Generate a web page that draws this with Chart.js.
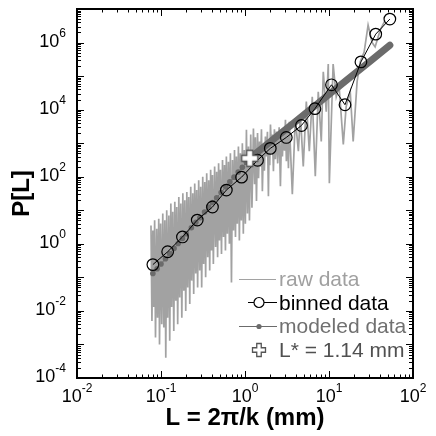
<!DOCTYPE html>
<html lang="en">
<head>
<meta charset="UTF-8">
<title>P[L] spectrum</title>
<style>
    body { margin: 0; background: #ffffff; }
    #chart { display: block; }
</style>
<script src="https://cdn.jsdelivr.net/npm/chart.js"></script>
</head>
<body>
<canvas id="chart" width="436" height="436"></canvas>
<script>
// raw spectrum, traced as peak / trough pairs
const rawL = [
    0.076, 0.078, 0.080, 0.082, 0.084, 0.086, 0.089, 0.091, 0.094, 0.096,
    0.099, 0.102, 0.105, 0.108, 0.111, 0.114, 0.117, 0.120, 0.124, 0.127,
    0.131, 0.134, 0.138, 0.142, 0.146, 0.150, 0.154, 0.158, 0.163, 0.167,
    0.172, 0.177, 0.182, 0.187, 0.192, 0.197, 0.203, 0.208, 0.214, 0.220,
    0.226, 0.232, 0.239, 0.245, 0.252, 0.259, 0.266, 0.273, 0.281, 0.289,
    0.297, 0.305, 0.314, 0.322, 0.332, 0.340, 0.350, 0.360, 0.370, 0.380,
    0.39, 0.40, 0.41, 0.42, 0.435, 0.447, 0.46, 0.472, 0.485, 0.497,
    0.51, 0.525, 0.54, 0.555, 0.57, 0.585, 0.60, 0.617, 0.635, 0.652,
    0.67, 0.69, 0.71, 0.73, 0.75, 0.77, 0.79, 0.81, 0.835, 0.857,
    0.88, 0.905, 0.93, 0.955, 0.98, 1.01, 1.04, 1.07, 1.10, 1.13,
    1.17, 1.21, 1.26, 1.30, 1.33, 1.37, 1.41, 1.45, 1.49, 1.53,
    1.57, 1.61, 1.66, 1.70, 1.75, 1.80, 1.85, 1.90, 1.94, 1.97,
    2.01, 2.07, 2.12, 2.18, 2.24, 2.30, 2.37, 2.45, 2.55, 2.64,
    2.72, 2.79, 2.86, 2.95, 3.03, 3.11, 3.20, 3.29, 3.37, 3.66,
    3.97, 4.32, 4.56, 4.94, 5.37, 5.83,
    6.32, 6.87, 7.45, 8.09, 8.55, 9.27, 9.8, 10.1, 11.2, 12.2,
    13.2, 14.8, 16.0, 17.9, 19.4, 21.6, 23.5, 26.2, 29.2, 32.6,
    35.4, 40.6, 46.5
];
const rawP = [
    3.5, 5e-3, 2.5, 1.3e-2, 5, 1.6e-3, 2.8, 6.3e-3, 5.6, 1e-3,
    4, 4e-3, 8, 3.2e-3, 5, 4e-4, 10, 6.3e-3, 7, 1.3e-3,
    16, 1.3e-2, 9, 2.5e-3, 18, 2e-2, 12.5, 4e-3, 25, 2.5e-2,
    16, 6.3e-3, 32, 4e-2, 20, 1e-2, 35, 5e-2, 25, 1.6e-2,
    50, 8e-2, 32, 3.2e-2, 63, 0.13, 40, 5e-2, 79, 0.16,
    50, 5e-2, 100, 0.25, 70, 0.1, 126, 0.4, 79, 0.16,
    160, 0.63, 112, 0.25, 200, 0.8, 140, 0.4, 250, 1.26,
    160, 0.5, 316, 1.6, 224, 0.63, 400, 2, 280, 1,
    500, 0.07, 316, 2.5, 630, 1.6, 400, 4, 790, 1.26,
    500, 5, 1000, 2, 630, 4, 2500, 8, 790, 5,
    1800, 12, 2750, 60, 1500, 19, 2000, 90, 1120, 200,
    2600, 37, 900, 150, 1580, 400, 2200, 26, 1300, 220,
    3600, 500, 1800, 145, 2600, 330, 2240, 250, 3000, 52,
    1600, 400, 2570, 600, 5000, 290, 2800, 180, 4370, 30,
    5400, 575, 7100, 204, 17400, 575,
    24300, 103, 34000, 1120, 134000, 8700, 230000, 64, 230000, 24300,
    48000, 920, 12300, 34000, 1120, 68000, 265000, 520000, 3.3e6, 1.0e6,
    740000, 2.3e6, 4.6e6
];

const binL = [0.080, 0.12, 0.18, 0.27, 0.41, 0.60, 0.91, 1.41, 2.0, 3.1, 4.7, 6.8, 10.7, 15.5, 24, 36, 53];
const binP = [0.24, 0.58, 1.6, 5.1, 12.5, 40, 97, 310, 700, 1480, 3370, 10700, 55000, 14000, 265000, 1.78e6, 5e6];

const modelL = [0.08, 0.09, 0.10, 0.113, 0.127, 0.143, 0.16, 0.18, 0.20, 0.23, 0.26, 0.29, 0.33, 0.37, 0.41,
                0.46, 0.52, 0.59, 0.66, 0.74, 0.83, 0.93, 1.04, 1.14, 2, 4, 8, 16, 32, 53];
const modelP = [0.13, 0.18, 0.25, 0.36, 0.51, 0.73, 1.02, 1.45, 2.0, 3.0, 4.4, 6.0, 8.9, 12.4, 17,
                23.6, 34, 50, 70, 97, 138, 192, 270, 355, 1100, 4450, 18000, 74000, 295000, 830000];

const lStarL = [1.14];
const lStarP = [355];

const xExp = [-2, -1, 0, 1, 2];
const yExp = [-4, -2, 0, 2, 4, 6];
const seriesNames = ['raw data', 'binned data', 'modeled data', 'L* = 1.14 mm'];

const FONT = '"Liberation Sans", Arial, sans-serif';
const rawColor = '#a2a2a2';
const modelColor = '#6b6b6b';

function pts(xs, ys) {
    return xs.map((x, i) => ({x: x, y: ys[i]}));
}

function plusShape(size, arm) {
    const c = document.createElement('canvas');
    c.width = size + 3;
    c.height = size + 3;
    const g = c.getContext('2d');
    const o = 1.5, m = (size - arm) / 2;
    g.beginPath();
    g.moveTo(o + m, o);
    g.lineTo(o + m + arm, o);
    g.lineTo(o + m + arm, o + m);
    g.lineTo(o + size, o + m);
    g.lineTo(o + size, o + m + arm);
    g.lineTo(o + m + arm, o + m + arm);
    g.lineTo(o + m + arm, o + size);
    g.lineTo(o + m, o + size);
    g.lineTo(o + m, o + m + arm);
    g.lineTo(o, o + m + arm);
    g.lineTo(o, o + m);
    g.lineTo(o + m, o + m);
    g.closePath();
    g.fillStyle = '#ffffff';
    g.fill();
    g.lineWidth = 1.3;
    g.strokeStyle = '#555555';
    g.stroke();
    return c;
}

const bigPlus = plusShape(16, 6);
const smallPlus = plusShape(13, 4.5);

function powerLabel(ctx, exp, x, y, align) {
    const base = '10', sup = String(exp);
    ctx.font = '18px ' + FONT;
    const wb = ctx.measureText(base).width;
    ctx.font = '12px ' + FONT;
    const ws = ctx.measureText(sup).width;
    let left = x;
    if (align === 'center') left = x - (wb + ws) / 2;
    if (align === 'right') left = x - (wb + ws);
    ctx.textAlign = 'left';
    ctx.textBaseline = 'alphabetic';
    ctx.font = '18px ' + FONT;
    ctx.fillText(base, left, y);
    ctx.font = '12px ' + FONT;
    ctx.fillText(sup, left + wb, y - 10);
}

// frame, inward ticks on all four sides, power-of-ten labels
const frameTicks = {
    id: 'frameTicks',
    afterDatasetsDraw(chart) {
        const {ctx, chartArea: a, scales: {x, y}} = chart;
        ctx.save();
        ctx.strokeStyle = '#000000';
        ctx.lineWidth = 1;
        ctx.beginPath();
        for (let d = -2; d < 2; d++) {
            for (let k = 1; k <= 9; k++) {
                const px = Math.round(x.getPixelForValue(k * Math.pow(10, d))) + 0.5;
                const len = k === 1 ? 7 : 3.5;
                ctx.moveTo(px, a.bottom); ctx.lineTo(px, a.bottom - len);
                ctx.moveTo(px, a.top); ctx.lineTo(px, a.top + len);
            }
        }
        for (let d = -4; d < 7; d++) {
            for (let k = 1; k <= 9; k++) {
                const py = Math.round(y.getPixelForValue(k * Math.pow(10, d))) + 0.5;
                const len = k === 1 ? 7 : 4;
                ctx.moveTo(a.left, py); ctx.lineTo(a.left + len, py);
                ctx.moveTo(a.right, py); ctx.lineTo(a.right - len, py);
            }
        }
        ctx.stroke();
        ctx.lineWidth = 2;
        ctx.strokeRect(a.left, a.top, a.right - a.left, a.bottom - a.top);

        ctx.fillStyle = '#000000';
        xExp.forEach(e => powerLabel(ctx, e, x.getPixelForValue(Math.pow(10, e)), a.bottom + 24, 'center'));
        yExp.forEach(e => powerLabel(ctx, e, a.left - 11, y.getPixelForValue(Math.pow(10, e)) + 4, 'right'));
        ctx.restore();
    }
};

// legend drawn inside the plot, text coloured like each series
const innerLegend = {
    id: 'innerLegend',
    afterDraw(chart) {
        const ctx = chart.ctx;
        const tx = 279;
        const rows = [286, 310, 333, 357];
        ctx.save();
        ctx.font = '21px ' + FONT;
        ctx.textAlign = 'left';
        ctx.textBaseline = 'alphabetic';

        // raw data
        ctx.strokeStyle = rawColor;
        ctx.lineWidth = 1;
        ctx.beginPath(); ctx.moveTo(239, 279.5); ctx.lineTo(276, 279.5); ctx.stroke();
        ctx.fillStyle = '#a0a0a0';
        ctx.fillText(seriesNames[0], tx, rows[0]);

        // binned data
        ctx.strokeStyle = '#000000';
        ctx.beginPath(); ctx.moveTo(248, 302.5); ctx.lineTo(254, 302.5); ctx.moveTo(264, 302.5); ctx.lineTo(277, 302.5); ctx.stroke();
        ctx.lineWidth = 1.2;
        ctx.beginPath(); ctx.arc(259, 302.5, 5, 0, Math.PI * 2); ctx.stroke();
        ctx.fillStyle = '#000000';
        ctx.fillText(seriesNames[1], tx, rows[1]);

        // modeled data
        ctx.strokeStyle = modelColor;
        ctx.lineWidth = 1;
        ctx.beginPath(); ctx.moveTo(239, 326.5); ctx.lineTo(277, 326.5); ctx.stroke();
        ctx.fillStyle = modelColor;
        ctx.beginPath(); ctx.arc(259, 326.5, 2.6, 0, Math.PI * 2); ctx.fill();
        ctx.fillStyle = '#707070';
        ctx.fillText(seriesNames[2], tx, rows[2]);

        // L*
        ctx.drawImage(smallPlus, 259 - smallPlus.width / 2, 350 - smallPlus.height / 2);
        ctx.fillStyle = '#505050';
        ctx.fillText(seriesNames[3], tx, rows[3]);
        ctx.restore();
    }
};

new Chart(document.getElementById('chart'), {
    type: 'scatter',
    data: {
        datasets: [
            {
                label: seriesNames[3],
                data: pts(lStarL, lStarP),
                pointStyle: bigPlus,
                pointRadius: 8,
                order: 0
            },
            {
                label: seriesNames[1],
                data: pts(binL, binP),
                showLine: true,
                borderColor: '#000000',
                borderWidth: 1,
                pointRadius: 5.8,
                pointBorderWidth: 1.2,
                pointBorderColor: '#000000',
                pointBackgroundColor: 'rgba(0,0,0,0)',
                order: 1
            },
            {
                label: seriesNames[2],
                data: pts(modelL, modelP),
                showLine: true,
                borderColor: modelColor,
                borderWidth: 1,
                borderCapStyle: 'round',
                segment: {
                    borderWidth: c => (c.p0.parsed.x >= 1.13 ? 7 : 1)
                },
                pointRadius: c => (c.raw && c.raw.x < 1.13 ? 2.8 : 0),
                pointBackgroundColor: modelColor,
                pointBorderWidth: 0,
                order: 2
            },
            {
                label: seriesNames[0],
                data: pts(rawL, rawP),
                showLine: true,
                borderColor: rawColor,
                borderWidth: 1.7,
                pointRadius: 0,
                order: 3
            }
        ]
    },
    options: {
        responsive: false,
        animation: false,
        devicePixelRatio: 1,
        layout: { padding: { left: 0, right: 23, top: 5, bottom: 0 } },
        plugins: {
            legend: { display: false },
            tooltip: { enabled: false }
        },
        scales: {
            x: {
                type: 'logarithmic',
                position: 'bottom',
                min: 0.01,
                max: 100,
                ticks: { display: false },
                grid: { display: false },
                border: { display: false },
                title: {
                    display: true,
                    text: 'L = 2\u03c0/k (mm)',
                    color: '#000000',
                    font: { family: FONT, size: 24, weight: 'bold' },
                    padding: { top: 0, bottom: 3 }
                },
                afterFit: s => { s.height = 58; }
            },
            y: {
                type: 'logarithmic',
                position: 'left',
                min: 1e-4,
                max: 1e7,
                ticks: { display: false },
                grid: { display: false },
                border: { display: false },
                title: {
                    display: true,
                    text: 'P[L]',
                    color: '#000000',
                    font: { family: FONT, size: 24, weight: 'bold' },
                    padding: { top: 8, bottom: 0 }
                },
                afterFit: s => { s.width = 77; }
            }
        }
    },
    plugins: [frameTicks, innerLegend]
});
</script>
</body>
</html>
